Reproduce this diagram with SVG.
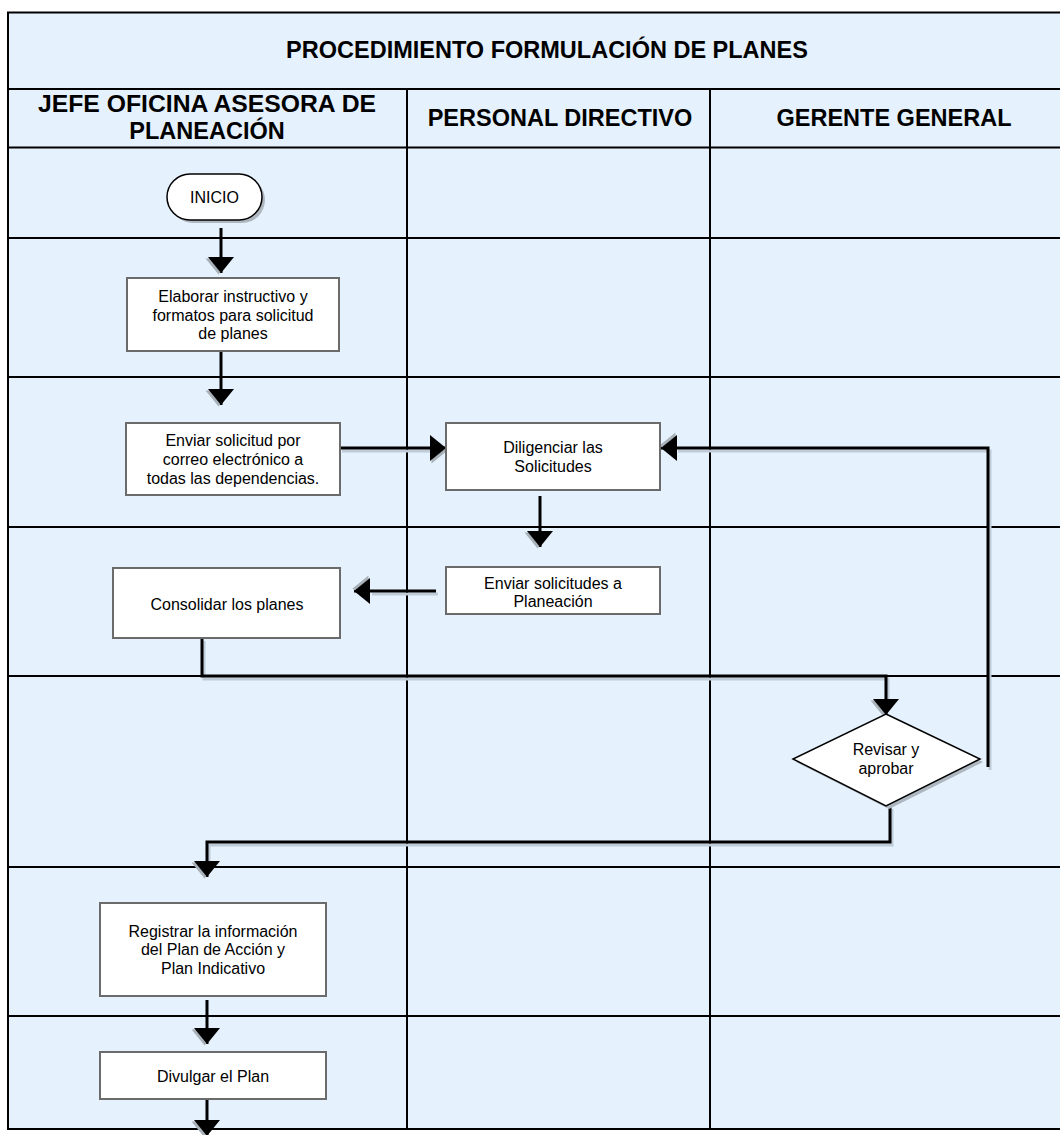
<svg xmlns="http://www.w3.org/2000/svg" width="1060" height="1135" viewBox="0 0 1060 1135">
<style>
.grid{stroke:#000;stroke-width:2;fill:none}
.bg{fill:#E5F1FD;stroke:#000;stroke-width:2}
.hdr{font-family:"Liberation Sans",Arial,sans-serif;font-weight:bold;font-size:23.5px;fill:#000;text-anchor:middle}
.box{fill:#fff;stroke:#6b6b6b;stroke-width:2}
.term{fill:#fff;stroke:#000;stroke-width:1.5}
.shd{fill:#aeb6bf;stroke:none}
.lbl{font-family:"Liberation Sans",Arial,sans-serif;font-size:16px;fill:#000;text-anchor:middle}
.con{stroke:#000;stroke-width:3;fill:none;marker-end:url(#ah)}
.cs{stroke:#bfcbd7;stroke-width:3;fill:none}
</style>
<defs>
<marker id="ah" viewBox="0 0 16 26" refX="16" refY="13" markerWidth="16" markerHeight="26" markerUnits="userSpaceOnUse" orient="auto" overflow="visible">
<path d="M1.5,2.5 L17.5,15.5 L1.5,28.5 Z" fill="#a8b0b8"/>
<path d="M0,0 L16,13 L0,26 Z" fill="#000"/>
</marker>
</defs>
<g id="table">
<rect class="bg" x="8" y="12.5" width="1080" height="1116.5"/>
<path class="grid" d="M8,89 H1088 M8,147.5 H1088 M8,238 H1088 M8,377 H1088 M8,527 H1088 M8,676 H1088 M8,867 H1088 M8,1016 H1088 M407,89 V1129 M710,89 V1129"/>
<text class="hdr" x="547" y="58">PROCEDIMIENTO FORMULACIÓN DE PLANES</text>
<text class="hdr" x="207" y="112" textLength="338" lengthAdjust="spacingAndGlyphs">JEFE OFICINA ASESORA DE</text>
<text class="hdr" x="207" y="139">PLANEACIÓN</text>
<text class="hdr" x="560" y="126">PERSONAL DIRECTIVO</text>
<text class="hdr" x="894" y="126">GERENTE GENERAL</text>
</g>
<g id="connectors">
<g transform="translate(2,3)">
<path class="cs" d="M202,638 V676 H886 V700"/>
<path class="cs" d="M890,806 V842 H207 V862"/>
<path class="cs" d="M988,767 V448 H676"/>
<path class="cs" d="M340,448 H431"/>
<path class="cs" d="M436,591 H370"/>
</g>
<path class="con" d="M221,228 V273"/>
<path class="con" d="M221,352 V405"/>
<path class="con" d="M340,448 H446"/>
<path class="con" d="M540,496 V547"/>
<path class="con" d="M436,591 H354"/>
<path class="con" d="M202,638 V676 H886 V715"/>
<path class="con" d="M890,806 V842 H207 V877"/>
<path class="con" d="M988,767 V448 H661"/>
<path class="con" d="M207,1000 V1044"/>
<path class="con" d="M207,1096 V1136"/>
</g>
<g id="inicio">
<rect class="shd" x="170" y="177" width="95" height="46" rx="23"/>
<rect class="term" x="167" y="174" width="95" height="46" rx="23"/>
<text class="lbl" x="214.5" y="202.5">INICIO</text>
</g>
<g id="elaborar">
<rect class="box" x="127" y="278" width="212" height="73"/>
<text class="lbl" x="233" y="302">Elaborar instructivo y</text>
<text class="lbl" x="233" y="321">formatos para solicitud</text>
<text class="lbl" x="233" y="339">de planes</text>
</g>
<g id="enviar-solicitud">
<rect class="box" x="126" y="423" width="214" height="72"/>
<text class="lbl" x="233" y="446">Enviar solicitud por</text>
<text class="lbl" x="233" y="465">correo electrónico a</text>
<text class="lbl" x="233" y="484">todas las dependencias.</text>
</g>
<g id="diligenciar">
<rect class="box" x="446" y="423" width="214" height="67"/>
<text class="lbl" x="553" y="453">Diligenciar las</text>
<text class="lbl" x="553" y="472">Solicitudes</text>
</g>
<g id="enviar-solicitudes">
<rect class="box" x="446" y="567" width="214" height="47"/>
<text class="lbl" x="553" y="589">Enviar solicitudes a</text>
<text class="lbl" x="553" y="607">Planeación</text>
</g>
<g id="consolidar">
<rect class="box" x="113" y="568" width="227" height="70"/>
<text class="lbl" x="227" y="610">Consolidar los planes</text>
</g>
<g id="revisar">
<polygon class="shd" points="889,717 983,762 889,809 796,762"/>
<polygon class="term" points="886,714 980,759 886,806 793,759"/>
<text class="lbl" x="886" y="755">Revisar y</text>
<text class="lbl" x="886" y="774">aprobar</text>
</g>
<g id="registrar">
<rect class="box" x="100" y="903" width="226" height="93"/>
<text class="lbl" x="213" y="937">Registrar la información</text>
<text class="lbl" x="213" y="955">del Plan de Acción y</text>
<text class="lbl" x="213" y="974">Plan Indicativo</text>
</g>
<g id="divulgar">
<rect class="box" x="100" y="1052" width="226" height="47"/>
<text class="lbl" x="213" y="1082">Divulgar el Plan</text>
</g>
</svg>
